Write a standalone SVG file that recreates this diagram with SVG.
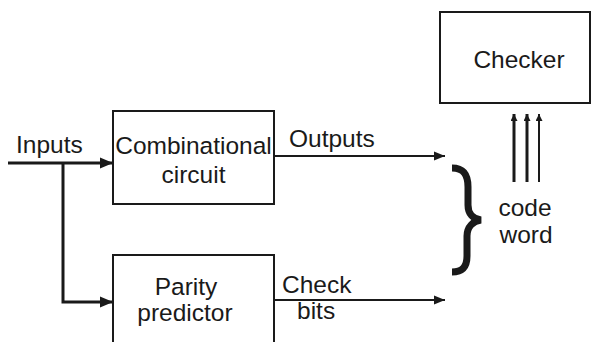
<svg xmlns="http://www.w3.org/2000/svg" width="598" height="342" viewBox="0 0 598 342">
  <style>
    .box { fill: #fff; stroke: #1a1a1a; stroke-width: 2; }
    .lbl { font-family: "Liberation Sans", Arial, sans-serif; font-size: 24.5px; fill: #1a1a1a; }
    .mid { text-anchor: middle; }
    .wire { fill: none; stroke: #1a1a1a; stroke-linecap: butt; }
  </style>
  <defs>
    <marker id="headBig" markerUnits="userSpaceOnUse" markerWidth="14" markerHeight="12" refX="13" refY="6" orient="auto">
      <polygon points="0,0.5 13,6 0,11.5" fill="#1a1a1a"/>
    </marker>
    <marker id="head" markerUnits="userSpaceOnUse" markerWidth="12" markerHeight="10" refX="11" refY="5" orient="auto">
      <polygon points="0,0.5 11,5 0,9.5" fill="#1a1a1a"/>
    </marker>
    <marker id="headUp" markerUnits="userSpaceOnUse" markerWidth="8" markerHeight="8" refX="7" refY="3.5" orient="auto">
      <polygon points="0,0 7,3.5 0,7" fill="#1a1a1a"/>
    </marker>
  </defs>

  <!-- connectors -->
  <g id="connectors">
    <line class="wire" x1="8" y1="163" x2="113" y2="163" stroke-width="3" marker-end="url(#headBig)"/>
    <polyline class="wire" points="63,163 63,302 113,302" stroke-width="3" marker-end="url(#headBig)"/>
    <line class="wire" x1="274" y1="156" x2="445" y2="156" stroke-width="2" marker-end="url(#head)"/>
    <line class="wire" x1="274" y1="300" x2="445" y2="300" stroke-width="2" marker-end="url(#head)"/>
    <line class="wire" x1="514" y1="182" x2="514" y2="114" stroke-width="3" marker-end="url(#headUp)"/>
    <line class="wire" x1="527" y1="182" x2="527" y2="114" stroke-width="3" marker-end="url(#headUp)"/>
    <line class="wire" x1="539" y1="182" x2="539" y2="114" stroke-width="2" marker-end="url(#headUp)"/>
    <!-- brace grouping outputs and check bits -->
    <path class="wire" stroke-width="7" d="M452,168 C464,168 468,175 468,187 L468,205 C468,214 473,219 481,220 C473,221 467,227 467,236 L467,256 C467,267 462,272 452,272"/>
  </g>

  <text class="lbl" x="16" y="153">Inputs</text>
  <text class="lbl" x="289" y="147">Outputs</text>
  <text class="lbl" x="282" y="293">Check</text>
  <text class="lbl" x="297" y="319">bits</text>
  <text class="lbl mid" x="525" y="216">code</text>
  <text class="lbl mid" x="526" y="243">word</text>

  <g id="combinational">
    <rect class="box" x="113" y="111" width="161" height="93"/>
    <text class="lbl mid" x="193.5" y="154">Combinational</text>
    <text class="lbl mid" x="193.5" y="183">circuit</text>
  </g>

  <g id="parity">
    <path class="box" d="M113,345 L113,255 L274,255 L274,345"/>
    <text class="lbl mid" x="186" y="295">Parity</text>
    <text class="lbl mid" x="185" y="321">predictor</text>
  </g>

  <g id="checker">
    <rect class="box" x="440" y="12" width="150" height="91"/>
    <text class="lbl mid" x="519" y="68">Checker</text>
  </g>
</svg>
